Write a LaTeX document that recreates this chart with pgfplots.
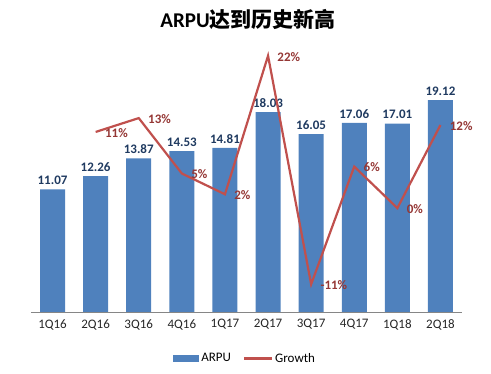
\documentclass[border=0pt]{standalone}
\usepackage{fontspec}
\setmainfont{Carlito}
\newfontfamily\cjk{Noto Sans CJK SC}
\usepackage{pgfplots}
\pgfplotsset{compat=1.18}
\definecolor{barblue}{HTML}{4F81BD}
\definecolor{linered}{HTML}{C0504D}
\definecolor{lbblue}{HTML}{1F3A60}
\definecolor{lbred}{HTML}{953735}
\definecolor{axgray}{HTML}{868686}
\begin{document}
\begin{tikzpicture}
\path (0,0) rectangle (491pt,374pt);
\node at (248pt,355pt) {\fontsize{21}{25}\selectfont\bfseries ARPU\cjk 达到历史新高};
\begin{axis}[
  at={(31pt,62pt)}, anchor=south west,
  scale only axis, width=431pt, height=277pt,
  xmin=-0.5, xmax=9.5, ymin=0, ymax=25,
  axis y line=none,
  axis x line*=bottom,
  x axis line style={draw=axgray, -},
  xtick=data,
  xticklabels={1Q16,2Q16,3Q16,4Q16,1Q17,2Q17,3Q17,4Q17,1Q18,2Q18},
  xtick style={draw=none},
  xticklabel style={font=\fontsize{13}{15}\selectfont, text=black!85, yshift=-4pt},
  major tick length=0pt,
  ybar, bar width=25pt,
  nodes near coords,
  nodes near coords style={yshift=1pt, font=\fontsize{13}{15}\selectfont\bfseries, text=lbblue, /pgf/number format/.cd, fixed, fixed zerofill, precision=2, assume math mode=true},
  clip=false,
]
\addplot[fill=barblue, draw=none] coordinates {(0,11.07) (1,12.26) (2,13.87) (3,14.53) (4,14.81) (5,18.03) (6,16.05) (7,17.06) (8,17.01) (9,19.12)};
\end{axis}
\begin{axis}[
  at={(31pt,62pt)}, anchor=south west,
  scale only axis, width=431pt, height=277pt,
  xmin=-0.5, xmax=9.5, ymin=-0.15, ymax=0.25,
  hide axis, clip=false,
  legend style={at={(0.497,-0.168)}, anchor=center, draw=none, legend columns=2, font=\fontsize{13}{15}\selectfont, /tikz/every even column/.append style={column sep=10pt}},
  legend cell align=left,
]
\addlegendimage{area legend, fill=barblue, draw=none, legend image code/.code={\fill[barblue] (0pt,-3.5pt) rectangle (26pt,3.5pt);}}
\addlegendentry{ARPU}
\addplot[linered, line width=2.2pt, mark=none,
  nodes near coords, point meta=explicit symbolic,
  nodes near coords style={anchor=west, xshift=5pt, yshift=-1pt, font=\fontsize{13}{15}\selectfont\bfseries, text=lbred},
  legend image code/.code={\draw[linered, line width=2.2pt] (0pt,0pt) -- (28pt,0pt);}]
 coordinates {(1,0.11) [11\%] (2,0.13) [13\%] (3,0.05) [5\%] (4,0.02) [2\%] (5,0.22) [22\%] (6,-0.11) [-11\%] (7,0.06) [6\%] (8,0.00) [0\%] (9,0.12) [12\%]};
\addlegendentry{Growth}
\end{axis}
\end{tikzpicture}
\end{document}
